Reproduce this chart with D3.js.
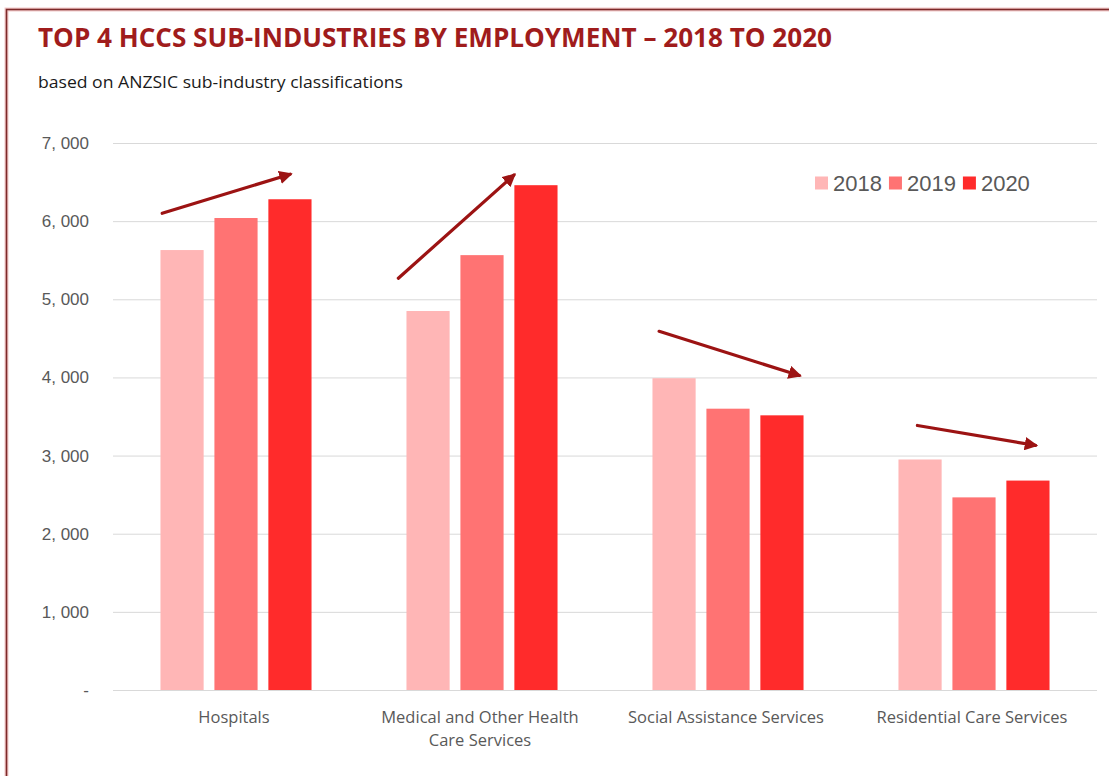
<!DOCTYPE html>
<html>
<head>
<meta charset="utf-8">
<script src="https://cdn.jsdelivr.net/npm/d3@7"></script>
<style>
  html, body { margin: 0; padding: 0; background: #ffffff; overflow: hidden; }
  svg { display: block; }
</style>
</head>
<body>
<svg id="chart" width="1109" height="776"></svg>
<script>
// Employment by HCCS sub-industry, 2018–2020
const categories = [
  ["Hospitals"],
  ["Medical and Other Health", "Care Services"],
  ["Social Assistance Services"],
  ["Residential Care Services"]
];
const years = ["2018", "2019", "2020"];
const values2018 = [5630, 4850, 3990, 2950];
const values2019 = [6040, 5565, 3600, 2465];
const values2020 = [6280, 6460, 3515, 2680];
const seriesColors = ["#ffb6b6", "#ff7373", "#ff2b2b"];
const yTicks = [0, 1000, 2000, 3000, 4000, 5000, 6000, 7000];

// Trend arrows: start/end as position within the category band and value
const arrowStartPos = [0.20, 0.16, 0.22, 0.27];
const arrowEndPos   = [0.72, 0.63, 0.79, 0.75];
const arrowStartVal = [6100, 5270, 4590, 3385];
const arrowEndVal   = [6600, 6590, 4025, 3130];

const svg = d3.select("#chart");
const W = 1109, H = 776;
const margin = { left: 113, right: 12, top: 143, bottom: 86 };

// Outer frame
svg.append("rect")
  .attr("x", 6.5).attr("y", 9.5)
  .attr("width", W + 20).attr("height", H + 20)
  .attr("fill", "none")
  .attr("stroke", "#f2c9c9").attr("stroke-width", 4);
svg.append("rect")
  .attr("x", 6.5).attr("y", 9.5)
  .attr("width", W + 20).attr("height", H + 20)
  .attr("fill", "none")
  .attr("stroke", "#7d2a2a").attr("stroke-width", 1.6);

// Title and subtitle
svg.append("text")
  .attr("x", 38).attr("y", 47)
  .attr("font-family", "'Open Sans', sans-serif")
  .attr("font-weight", "bold")
  .attr("font-size", 26)
  .attr("fill", "#a01c1c")
  .attr("textLength", 794).attr("lengthAdjust", "spacingAndGlyphs")
  .text("TOP 4 HCCS SUB-INDUSTRIES BY EMPLOYMENT – 2018 TO 2020");

svg.append("text")
  .attr("x", 38).attr("y", 88)
  .attr("font-family", "'Open Sans', sans-serif")
  .attr("font-size", 16)
  .attr("fill", "#1a1a1a")
  .attr("textLength", 365).attr("lengthAdjust", "spacingAndGlyphs")
  .text("based on ANZSIC sub-industry classifications");

// Scales
const x0 = d3.scaleBand()
  .domain(d3.range(categories.length))
  .range([margin.left, W - margin.right])
  .paddingInner(0).paddingOuter(0);

const x1 = d3.scaleBand()
  .domain(years)
  .range([0, x0.bandwidth()])
  .paddingInner(0.2)
  .paddingOuter(0.88);

const y = d3.scaleLinear()
  .domain([0, 7000])
  .range([H - margin.bottom, margin.top]);

// Gridlines
const grid = svg.append("g")
  .call(d3.axisLeft(y).tickValues(yTicks).tickSize(-(W - margin.right - margin.left)).tickFormat(""))
  .attr("transform", `translate(${margin.left},0)`);
grid.select(".domain").remove();
grid.selectAll("line").attr("stroke", "#d9d9d9").attr("stroke-width", 1);

// Y axis labels
const yAxis = svg.append("g")
  .attr("transform", `translate(${margin.left},0)`)
  .call(d3.axisLeft(y).tickValues(yTicks).tickSize(0).tickPadding(24)
    .tickFormat(d => d === 0 ? "-" : d3.format(",")(d).replace(",", ", ")));
yAxis.select(".domain").remove();
yAxis.selectAll("text")
  .attr("font-family", "'Liberation Sans', Arial, sans-serif")
  .attr("font-size", 17)
  .attr("fill", "#595959");

// Bars
const seriesValues = [values2018, values2019, values2020];
const groups = svg.append("g").selectAll("g")
  .data(categories.map((c, i) => i))
  .join("g")
  .attr("transform", i => `translate(${x0(i)},0)`);

groups.selectAll("rect")
  .data(i => years.map((yr, s) => ({ yr, s, v: seriesValues[s][i] })))
  .join("rect")
  .attr("x", d => x1(d.yr))
  .attr("width", x1.bandwidth())
  .attr("y", d => y(d.v))
  .attr("height", d => y(0) - y(d.v))
  .attr("fill", d => seriesColors[d.s]);

// X axis labels
const xLabels = svg.append("g");
categories.forEach((lines, i) => {
  const cx = x0(i) + x0.bandwidth() / 2 - 2;
  const t = xLabels.append("text")
    .attr("x", cx)
    .attr("y", H - margin.bottom + 33)
    .attr("text-anchor", "middle")
    .attr("font-family", "'Open Sans', sans-serif")
    .attr("font-size", 16.5)
    .attr("fill", "#595959");
  lines.forEach((ln, k) => {
    t.append("tspan")
      .attr("x", cx)
      .attr("dy", k === 0 ? 0 : 23)
      .text(ln);
  });
});

// Trend arrows
const defs = svg.append("defs");
defs.append("marker")
  .attr("id", "arrowhead")
  .attr("viewBox", "0 0 10 10")
  .attr("refX", 8).attr("refY", 5)
  .attr("markerWidth", 4.2).attr("markerHeight", 4.2)
  .attr("orient", "auto")
  .append("path")
  .attr("d", "M0,0 L10,5 L0,10 z")
  .attr("fill", "#9c1313");

svg.append("g").selectAll("line")
  .data(categories.map((c, i) => i))
  .join("line")
  .attr("x1", i => x0(i) + arrowStartPos[i] * x0.bandwidth())
  .attr("y1", i => y(arrowStartVal[i]))
  .attr("x2", i => x0(i) + arrowEndPos[i] * x0.bandwidth())
  .attr("y2", i => y(arrowEndVal[i]))
  .attr("stroke", "#9c1313")
  .attr("stroke-width", 3.2)
  .attr("stroke-linecap", "round")
  .attr("marker-end", "url(#arrowhead)");

// Legend
const legend = svg.append("g").attr("transform", "translate(815,183)");
let lx = 0;
years.forEach((yr, s) => {
  legend.append("rect")
    .attr("x", lx).attr("y", -6.5)
    .attr("width", 13).attr("height", 13)
    .attr("fill", seriesColors[s]);
  const t = legend.append("text")
    .attr("x", lx + 18).attr("y", 8)
    .attr("font-family", "'Liberation Sans', Arial, sans-serif")
    .attr("font-size", 22)
    .attr("fill", "#595959")
    .text(yr);
  lx += 18 + t.node().getComputedTextLength() + 7;
});
</script>
</body>
</html>
